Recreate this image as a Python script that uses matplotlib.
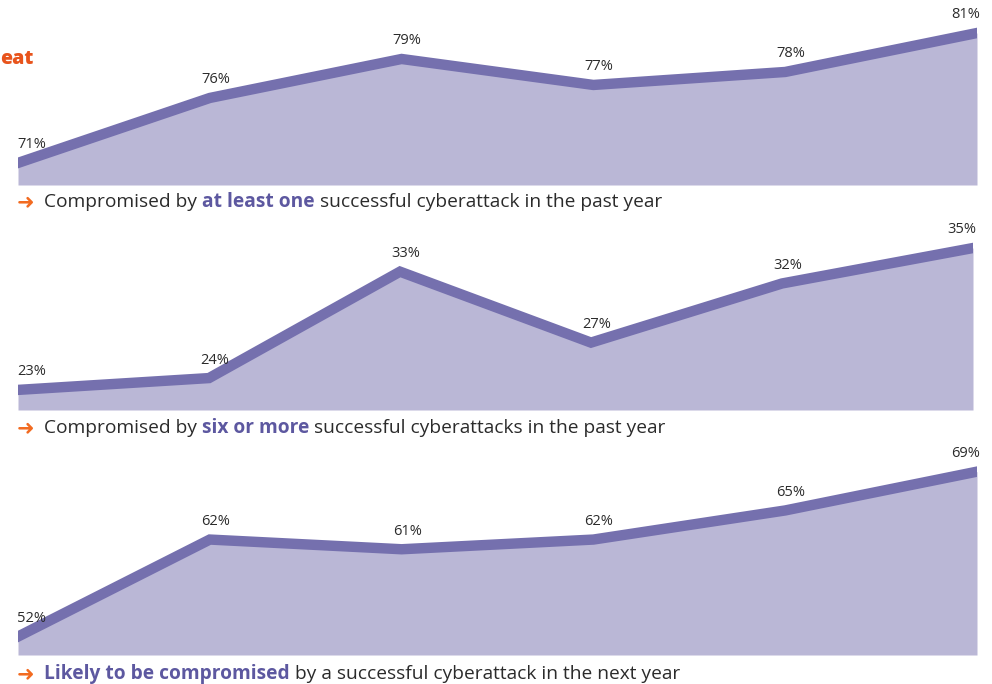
import matplotlib
matplotlib.use("Agg")
import matplotlib.pyplot as plt

# data
x_points = [0, 1, 2, 3, 4, 5]
at_least_one = [71, 76, 79, 77, 78, 81]
six_or_more = [23, 24, 33, 27, 32, 35]
next_year = [52, 62, 61, 62, 65, 69]

captions = [
    [("Compromised by ", False), ("at least one", True), (" successful cyberattack in the past year", False)],
    [("Compromised by ", False), ("six or more", True), (" successful cyberattacks in the past year", False)],
    [("Likely to be compromised", True), (" by a successful cyberattack in the next year", False)],
]

fill_color = "#bab7d6"
line_color = "#7570ae"
bold_color = "#5d58a0"
text_color = "#2b2b2b"
orange = "#f26b21"

plt.rcParams["font.family"] = ["Open Sans", "DejaVu Sans"]

W, H = 992, 684
fig = plt.figure(figsize=(W / 100, H / 100), dpi=100)

# (values, left px, right px, top px, bottom px, ymin, ymax, caption y px)
panels = [
    (at_least_one, 18, 977, 20, 185, 69.3, 82.0, 202),
    (six_or_more, 18, 973, 235, 410, 21.3, 36.1, 428),
    (next_year, 18, 977, 460, 655, 50.1, 70.2, 674),
]

for i, (vals, x0, x1, top, bot, ymin, ymax, cap_y) in enumerate(panels):
    ax = fig.add_axes([x0 / W, 1 - bot / H, (x1 - x0) / W, (bot - top) / H])
    ax.fill_between(x_points, vals, ymin, color=fill_color, lw=0)
    ax.plot(x_points, vals, color=line_color, lw=7.5, solid_joinstyle="miter")
    ax.set_xlim(0, 5)
    ax.set_ylim(ymin, ymax)
    ax.axis("off")
    for j, (xv, yv) in enumerate(zip(x_points, vals)):
        dx = 4
        if j == 0:
            dx = 10
        elif j == len(vals) - 1:
            dx = -8
        ax.annotate(f"{yv}%", (xv, yv), xytext=(dx, 13), textcoords="offset points",
                    ha="center", va="center", fontsize=10.5, color=text_color,
                    annotation_clip=False)

    # caption with arrow and mixed weight
    fig.canvas.draw()
    r = fig.canvas.get_renderer()
    fig.text(17 / W, 1 - cap_y / H, "\u279c", color=orange, fontsize=15,
             fontweight="bold", va="center", ha="left", family=["DejaVu Sans"])
    xpos = 44
    for piece, bold in captions[i]:
        t = fig.text(xpos / W, 1 - cap_y / H, piece, fontsize=13.8,
                     fontweight="bold" if bold else "normal",
                     color=bold_color if bold else text_color, va="center", ha="left")
        bb = t.get_window_extent(renderer=r)
        xpos += bb.width

fig.text(0, 1 - 59 / H, "eat", color="#e8541c", fontsize=14, fontweight="heavy",
         va="center", ha="left")

fig.savefig("out.png", dpi=100)
